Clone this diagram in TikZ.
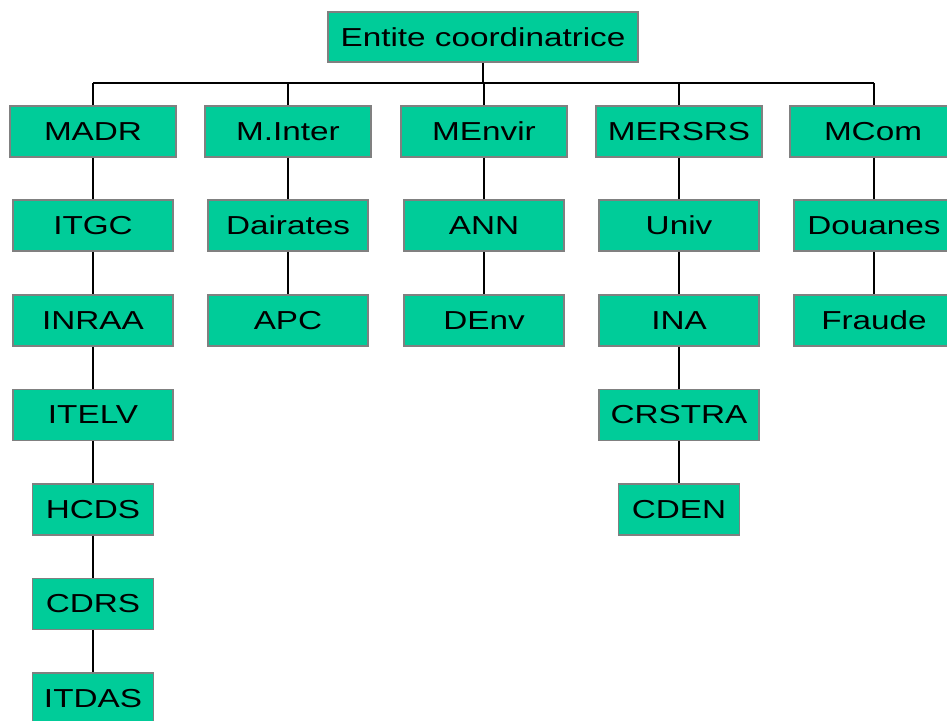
\documentclass[tikz,border=0pt]{standalone}
\usepackage{fontspec}
\newfontfamily\labfont[FakeStretch=1.28]{Liberation Sans}
\definecolor{boxfill}{HTML}{00CC99}
\definecolor{boxline}{HTML}{808080}
\begin{document}
\begin{tikzpicture}[x=1pt,y=-1pt,
  box/.style={draw=boxline, line width=1.6pt, fill=boxfill, inner sep=0pt,
    font=\labfont\fontsize{26}{28}\selectfont, text=black, minimum height=51pt},
  wide/.style={box, minimum width=166pt},
  mid/.style={box, minimum width=160pt},
  small/.style={box, minimum width=121pt},
  link/.style={line width=2pt, black}]
\useasboundingbox (0,0) rectangle (947,720);
\clip (0,0) rectangle (947,720);
% nodes
\node[box, minimum width=310pt, minimum height=50pt] (top) at (483,37) {Entite coordinatrice};
\node[wide] (madr) at (93,131.5) {MADR};
\node[wide] (minter) at (288,131.5) {M.Inter};
\node[wide] (menvir) at (484,131.5) {MEnvir};
\node[wide] (mersrs) at (679,131.5) {MERSRS};
\node[wide] (mcom) at (873,131.5) {MCom};
% column 1
\node[mid] (itgc) at (93,225.5) {ITGC};
\node[mid] (inraa) at (93,320.5) {INRAA};
\node[mid] (itelv) at (93,415) {ITELV};
\node[small] (hcds) at (93,509.5) {HCDS};
\node[small] (cdrs) at (93,604) {CDRS};
\node[small] (itdas) at (93,698.5) {ITDAS};
% column 2
\node[mid] (dairates) at (288,225.5) {Dairates};
\node[mid] (apc) at (288,320.5) {APC};
% column 3
\node[mid] (ann) at (484,225.5) {ANN};
\node[mid] (denv) at (484,320.5) {DEnv};
% column 4
\node[mid] (univ) at (679,225.5) {Univ};
\node[mid] (ina) at (679,320.5) {INA};
\node[mid] (crstra) at (679,415) {CRSTRA};
\node[small] (cden) at (679,509.5) {CDEN};
% column 5
\node[mid] (douanes) at (874,225.5) {Douanes};
\node[mid] (fraude) at (874,320.5) {Fraude};
% connectors
\coordinate (busL) at (93,83);
\coordinate (busR) at (874,83);
\draw[link] (busL) -- (busR);
\draw[link] (top.south) -- (top.south |- busL);
\foreach \n in {madr,minter,menvir,mersrs}
  \draw[link] (\n.north) -- (\n.north |- busL);
\draw[link] (busR) -- (busR |- mcom.north);
\draw[link] (madr) -- (itgc);
\draw[link] (itgc) -- (inraa);
\draw[link] (inraa) -- (itelv);
\draw[link] (itelv) -- (hcds);
\draw[link] (hcds) -- (cdrs);
\draw[link] (cdrs) -- (itdas);
\draw[link] (minter) -- (dairates);
\draw[link] (dairates) -- (apc);
\draw[link] (menvir) -- (ann);
\draw[link] (ann) -- (denv);
\draw[link] (mersrs) -- (univ);
\draw[link] (univ) -- (ina);
\draw[link] (ina) -- (crstra);
\draw[link] (crstra) -- (cden);
\draw[link] (busR |- mcom.south) -- (busR |- douanes.north);
\draw[link] (douanes) -- (fraude);
\end{tikzpicture}
\end{document}
